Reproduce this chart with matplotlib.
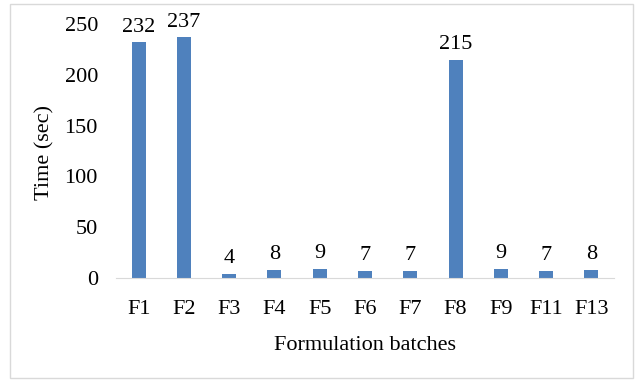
import matplotlib.pyplot as plt
from matplotlib.patches import Rectangle

batches = ['F1', 'F2', 'F3', 'F4', 'F5', 'F6', 'F7', 'F8', 'F9', 'F11', 'F13']
times = [232, 237, 4, 8, 9, 7, 7, 215, 9, 7, 8]

plt.rcParams['font.family'] = ['Liberation Serif', 'DejaVu Serif']
plt.rcParams['font.size'] = 16

W, H = 637, 385
fig = plt.figure(figsize=(W / 100, H / 100), dpi=100)
ax = fig.add_axes([116 / W, 1 - 278 / H, (614 - 116) / W, (278 - 24) / H])

x = range(len(batches))
ax.bar(x, times, width=0.31, color='#4F81BD')
for xi, t in zip(x, times):
    ax.annotate(str(t), (xi, t), xytext=(0, 4), textcoords='offset points',
                ha='center', va='bottom')

ax.set_xlim(-0.5, len(batches) - 0.5)
ax.set_ylim(0, 250)
ax.set_yticks(range(0, 251, 50))
ax.set_xticks(list(x))
ax.set_xticklabels(batches)
ax.tick_params(length=0)
ax.tick_params(axis='x', pad=16)
ax.tick_params(axis='y', pad=13)
for s in ['top', 'right', 'left']:
    ax.spines[s].set_visible(False)
ax.spines['bottom'].set_color('#D9D9D9')

fig.text(45 / W, 1 - 152 / H, 'Time (sec)', rotation=90, ha='center', va='center')
fig.text(365 / W, 1 - 346 / H, 'Formulation batches', ha='center', va='center')

fig.add_artist(Rectangle((10 / W, 1 - 378 / H), (633 - 10) / W, (378 - 4) / H,
                         transform=fig.transFigure, fill=False,
                         edgecolor='#D9D9D9', linewidth=1))

fig.savefig('out.png', dpi=100)
